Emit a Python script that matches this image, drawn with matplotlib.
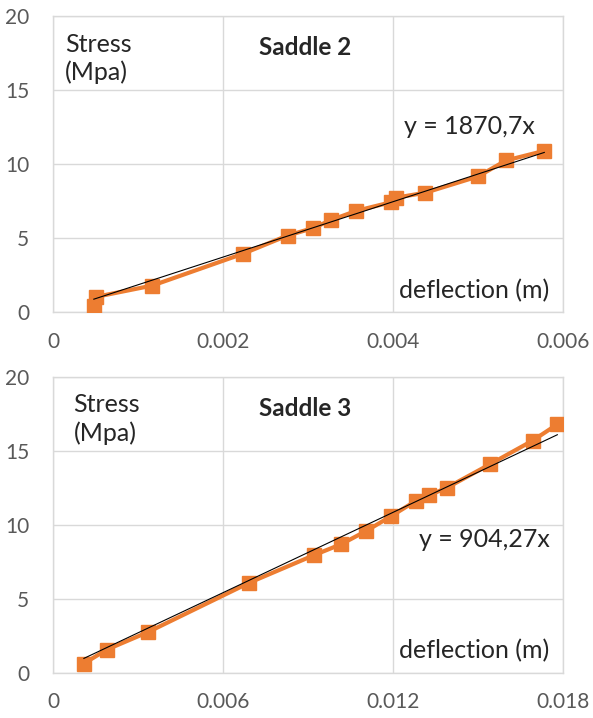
import matplotlib
matplotlib.use("Agg")
import matplotlib.pyplot as plt
import numpy as np

plt.rcParams["font.family"] = ["Lato", "DejaVu Sans"]

# Saddle 2: deflection (m) vs stress (MPa)
s2_defl = [0.00048, 0.00051, 0.00117, 0.00224, 0.00276, 0.00306, 0.00327,
           0.00357, 0.00398, 0.00403, 0.00438, 0.00500, 0.00533, 0.00578]
s2_stress = [0.43, 1.06, 1.82, 3.98, 5.2, 5.7, 6.24,
             6.87, 7.45, 7.75, 8.09, 9.19, 10.27, 10.92]
s2_slope = 1870.7

# Saddle 3
s3_defl = [0.00109, 0.0019, 0.00336, 0.00693, 0.0092, 0.01017, 0.01106,
           0.01193, 0.0128, 0.01326, 0.01389, 0.01542, 0.01693, 0.0178]
s3_stress = [0.64, 1.58, 2.77, 6.1, 7.95, 8.7, 9.6,
             10.59, 11.62, 12.0, 12.5, 14.1, 15.7, 16.8]
s3_slope = 904.27

ORANGE = "#ED7D31"
GRID = "#D9D9D9"
TICK = "#595959"
TXT = "#262626"


def draw_panel(ax, defl, stress, slope, xmax, xticks, xlabels, title, eq, eq_pos, stress_x):
    ax.plot(defl, stress, color=ORANGE, lw=3, marker="s", ms=10,
            solid_joinstyle="round", zorder=3)
    xs = np.array([min(defl), max(defl)])
    ax.plot(xs, slope * xs, color="black", lw=0.8, zorder=4)

    ax.set_xlim(0, xmax)
    ax.set_ylim(0, 20)
    ax.set_xticks(xticks)
    ax.set_xticklabels(xlabels)
    ax.set_yticks([0, 5, 10, 15, 20])
    ax.tick_params(length=0, labelsize=15, labelcolor=TICK)
    ax.tick_params(axis="x", pad=14)
    ax.tick_params(axis="y", pad=17)
    ax.grid(color=GRID, lw=1)
    ax.set_axisbelow(True)
    for sp in ax.spines.values():
        sp.set_color(GRID)
        sp.set_linewidth(1)

    tr = ax.transAxes
    ax.text(stress_x, 0.858, "Stress\n(Mpa)", transform=tr, ha="left", va="center",
            fontsize=18, color=TXT, linespacing=1.25)
    ax.text(0.494, 0.895, title, transform=tr, ha="center", va="center",
            fontsize=17.5, fontweight="bold", color=TXT)
    ax.text(eq_pos[0], eq_pos[1], eq, transform=tr, ha="left", va="center",
            fontsize=18, color=TXT)
    ax.text(0.974, 0.074, "deflection (m)", transform=tr, ha="right", va="center",
            fontsize=18, color=TXT)


fig = plt.figure(figsize=(5.93, 7.18), dpi=100)
ax1 = fig.add_axes([0.0894, 0.5648, 0.860, 0.4123])
ax2 = fig.add_axes([0.0894, 0.0627, 0.860, 0.4123])

draw_panel(ax1, s2_defl, s2_stress, s2_slope, 0.006,
           [0, 0.002, 0.004, 0.006], ["0", "0.002", "0.004", "0.006"],
           "Saddle 2", "y = 1870,7x", (0.688, 0.628), 0.024)
draw_panel(ax2, s3_defl, s3_stress, s3_slope, 0.018,
           [0, 0.006, 0.012, 0.018], ["0", "0.006", "0.012", "0.018"],
           "Saddle 3", "y = 904,27x", (0.718, 0.452), 0.04)

fig.savefig("out.png", dpi=100, facecolor="white")
